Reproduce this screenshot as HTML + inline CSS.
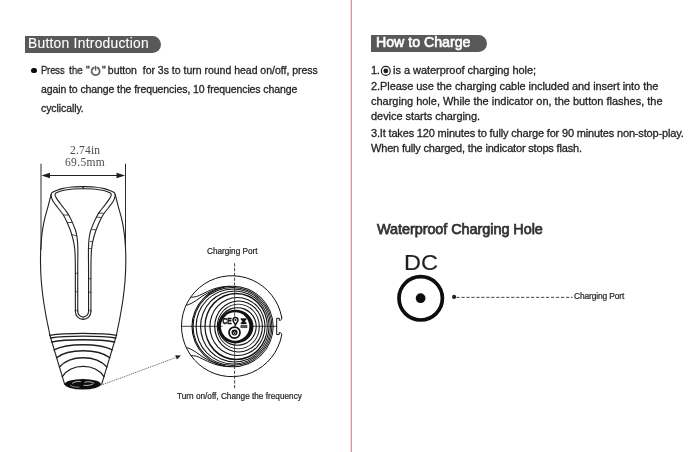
<!DOCTYPE html>
<html lang="en">
<head>
<meta charset="utf-8">
<title>Button Introduction / How to Charge</title>
<style>
html,body{margin:0;padding:0;background:#fff;}
body{width:700px;height:452px;position:relative;overflow:hidden;font-family:"Liberation Sans",sans-serif;color:#231f20;}
.divider{position:absolute;left:350px;top:0;width:2px;height:452px;background:linear-gradient(to right,#fbd0d2 0,#fbd0d2 1px,#f58c91 1px,#f58c91 2px);}
.hdr{position:absolute;background:#58595b;border-radius:0 8.5px 8.5px 0;}
.t{position:absolute;white-space:nowrap;line-height:20px;height:20px;color:#231f20;will-change:transform;-webkit-text-stroke:0.3px currentColor;}
svg{position:absolute;left:0;top:0;overflow:visible;}
.bullet{position:absolute;left:31.1px;top:67.5px;width:5.8px;height:5.8px;border-radius:50%;background:#0d0d0d;}
</style>
</head>
<body>
<div class="divider"></div>
<div class="hdr" style="left:25.2px;top:35.7px;width:136px;height:16.9px;"></div>
<div class="hdr" style="left:370.5px;top:34.8px;width:116.4px;height:16.8px;"></div>
<div class="bullet"></div>
<div class="t" id="l1a" style="left:40.70px;top:60.00px;font-size:10.5px;letter-spacing:-0.172px;transform:scaleX(0.9);transform-origin:0 50%;">Press</div>
<div class="t" id="l1t" style="left:69.18px;top:60.00px;font-size:10.5px;letter-spacing:0.008px;transform:scaleX(0.94);transform-origin:0 50%;">the</div>
<div class="t" id="l1q" style="left:85.69px;top:60.00px;font-size:10.5px;letter-spacing:0.225px;">&quot;</div>
<div class="t" id="l1b" style="left:102.09px;top:60.00px;font-size:10.5px;letter-spacing:-0.011px;">&quot;&thinsp;button&nbsp; for 3s to turn round head on/off, press</div>
<div class="t" id="l2" style="left:40.70px;top:79.01px;font-size:10.5px;letter-spacing:-0.099px;">again to change the frequencies, 10 frequencies change</div>
<div class="t" id="l3" style="left:40.70px;top:98.01px;font-size:10.5px;letter-spacing:-0.083px;">cyclically.</div>
<div class="t" id="r1a" style="left:370.98px;top:60.01px;font-size:11px;letter-spacing:-0.286px;">1.</div>
<div class="t" id="r1b" style="left:393.32px;top:60.01px;font-size:11px;letter-spacing:-0.040px;">is a waterproof charging hole;</div>
<div class="t" id="r2" style="left:370.60px;top:76.01px;font-size:11px;letter-spacing:-0.064px;">2.Please use the charging cable included and insert into the</div>
<div class="t" id="r3" style="left:370.60px;top:91.00px;font-size:11px;letter-spacing:-0.012px;">charging hole, While the indicator on, the button flashes, the</div>
<div class="t" id="r4" style="left:370.60px;top:106.00px;font-size:11px;letter-spacing:-0.045px;">device starts charging.</div>
<div class="t" id="r5" style="left:370.60px;top:123.00px;font-size:11px;letter-spacing:-0.166px;">3.It takes 120 minutes to fully charge for 90 minutes non-stop-play.</div>
<div class="t" id="r6" style="left:370.60px;top:138.00px;font-size:11px;letter-spacing:-0.176px;">When fully charged, the indicator stops flash.</div>
<div class="t" id="wch" style="left:376.80px;top:219.00px;font-size:14.4px;letter-spacing:-0.035px;color:#333;-webkit-text-stroke:0.75px currentColor;">Waterproof Charging Hole</div>
<div class="t" id="dc" style="left:404.00px;top:253.01px;font-size:22.6px;letter-spacing:0.061px;-webkit-text-stroke:0.15px currentColor;transform:scaleX(1.04);transform-origin:0 50%;">DC</div>
<div class="t" id="cp2" style="left:574.16px;top:286.01px;font-size:8.4px;letter-spacing:-0.121px;color:#262626;-webkit-text-stroke:0.22px currentColor;">Charging Port</div>
<div class="t" id="cp1" style="left:206.64px;top:242.01px;font-size:8.2px;letter-spacing:-0.003px;color:#262626;-webkit-text-stroke:0.22px currentColor;">Charging Port</div>
<div class="t" id="turn" style="left:176.84px;top:387.00px;font-size:8.2px;letter-spacing:0.018px;color:#262626;-webkit-text-stroke:0.22px currentColor;">Turn on/off, Change the frequency</div>
<div class="t" id="d1" style="left:69.58px;top:140.00px;font-size:11.5px;letter-spacing:0.195px;font-family:'Liberation Serif',serif;color:#4a4a4a;-webkit-text-stroke:0;">2.74in</div>
<div class="t" id="d2" style="left:64.85px;top:152.00px;font-size:11.5px;letter-spacing:0.348px;font-family:'Liberation Serif',serif;color:#4a4a4a;-webkit-text-stroke:0;">69.5mm</div>
<div class="t" id="h1" style="left:28.36px;top:34.01px;font-size:13.8px;letter-spacing:0.270px;color:#fff;-webkit-text-stroke:0.1px currentColor;">Button Introduction</div>
<div class="t" id="h2" style="left:376.47px;top:32.01px;font-size:14.2px;letter-spacing:-0.016px;color:#fff;-webkit-text-stroke:0.6px currentColor;">How to Charge</div>
<svg width="700" height="452" viewBox="0 0 700 452">
<g stroke="#231f20" stroke-width="0.95" fill="none">
<line x1="41" y1="163.7" x2="41" y2="250"/>
<line x1="125.5" y1="163.7" x2="125.5" y2="250"/>
<line x1="47" y1="175.5" x2="119" y2="175.5" stroke-width="1.1"/>
</g>
<path d="M41.4 175.5 L50 172.7 L50 178.3 Z" fill="#231f20" stroke="none"/>
<path d="M125.1 175.5 L116.5 172.7 L116.5 178.3 Z" fill="#231f20" stroke="none"/>
<g stroke="#231f20" stroke-width="1.1" fill="none" stroke-linecap="round" stroke-linejoin="round">
<path d="M83.15 186.60 C81.29 186.67 75.53 186.67 72.00 187.00 C68.47 187.33 64.58 188.03 62.00 188.60 C59.42 189.17 58.07 189.78 56.50 190.40 C54.93 191.02 53.48 191.65 52.60 192.30 C51.72 192.95 51.97 191.92 51.20 194.30 C50.43 196.68 49.13 202.35 48.00 206.60 C46.87 210.85 45.38 215.40 44.40 219.80 C43.42 224.20 42.68 228.63 42.10 233.00 C41.52 237.37 41.17 241.17 40.90 246.00 C40.63 250.83 40.45 256.33 40.50 262.00 C40.55 267.67 40.72 273.67 41.20 280.00 C41.68 286.33 42.47 293.33 43.40 300.00 C44.33 306.67 45.92 315.17 46.80 320.00 C47.68 324.83 48.20 326.50 48.70 329.00 C49.20 331.50 49.62 334.00 49.80 335.00 L64.6 384.2"/>
<path d="M83.15 188.70 C81.46 188.75 76.19 188.73 73.00 189.00 C69.81 189.27 66.33 189.85 64.00 190.30 C61.67 190.75 60.33 191.25 59.00 191.70 C57.67 192.15 56.67 192.48 56.00 193.00 C55.33 193.52 54.90 193.90 55.00 194.80 C55.10 195.70 55.57 196.73 56.60 198.40 C57.63 200.07 59.55 202.60 61.20 204.80 C62.85 207.00 65.13 209.70 66.50 211.60 C67.87 213.50 68.35 214.23 69.40 216.20 C70.45 218.17 71.75 220.93 72.80 223.40 C73.85 225.87 74.97 228.48 75.70 231.00 C76.43 233.52 76.85 235.83 77.20 238.50 C77.55 241.17 77.69 244.08 77.80 247.00 C77.91 249.92 77.86 252.17 77.85 256.00 C77.84 259.83 77.77 260.73 77.75 270.00 C77.73 279.27 77.75 304.67 77.75 311.60"/>
<path d="M51.00 194.60 C51.12 195.20 51.30 197.00 51.70 198.20 C52.10 199.40 52.40 200.25 53.40 201.80 C54.40 203.35 56.10 205.38 57.70 207.50 C59.30 209.62 61.52 212.22 63.00 214.50 C64.48 216.78 65.33 218.45 66.60 221.20 C67.87 223.95 69.47 227.72 70.60 231.00 C71.73 234.28 72.70 237.80 73.40 240.90 C74.10 244.00 74.50 246.75 74.80 249.60 C75.10 252.45 75.11 254.60 75.20 258.00 C75.29 261.40 75.32 261.07 75.35 270.00 C75.38 278.93 75.35 304.67 75.35 311.60"/>
<line x1="63.4" y1="215.0" x2="68.4" y2="215.0" stroke-width="0.8"/>
<line x1="67.4" y1="222.6" x2="72.4" y2="222.4" stroke-width="0.8"/>
<line x1="72.2" y1="234.6" x2="76.6" y2="236.0" stroke-width="0.8"/>
<line x1="75.35" y1="273.3" x2="77.75" y2="273.3" stroke-width="0.7"/>
<line x1="75.35" y1="291.7" x2="77.75" y2="291.7" stroke-width="0.7"/>
<line x1="75.35" y1="310.2" x2="77.75" y2="310.2" stroke-width="0.7"/>
<path d="M83.15 186.60 C85.01 186.67 90.78 186.67 94.30 187.00 C97.82 187.33 101.72 188.03 104.30 188.60 C106.88 189.17 108.23 189.78 109.80 190.40 C111.37 191.02 112.82 191.65 113.70 192.30 C114.58 192.95 114.33 191.92 115.10 194.30 C115.87 196.68 117.17 202.35 118.30 206.60 C119.43 210.85 120.92 215.40 121.90 219.80 C122.88 224.20 123.62 228.63 124.20 233.00 C124.78 237.37 125.13 241.17 125.40 246.00 C125.67 250.83 125.85 256.33 125.80 262.00 C125.75 267.67 125.58 273.67 125.10 280.00 C124.62 286.33 123.83 293.33 122.90 300.00 C121.97 306.67 120.38 315.17 119.50 320.00 C118.62 324.83 118.10 326.50 117.60 329.00 C117.10 331.50 116.68 334.00 116.50 335.00 L101.7 384.2"/>
<path d="M83.15 188.70 C84.84 188.75 90.11 188.73 93.30 189.00 C96.49 189.27 99.97 189.85 102.30 190.30 C104.63 190.75 105.97 191.25 107.30 191.70 C108.63 192.15 109.63 192.48 110.30 193.00 C110.97 193.52 111.40 193.90 111.30 194.80 C111.20 195.70 110.73 196.73 109.70 198.40 C108.67 200.07 106.75 202.60 105.10 204.80 C103.45 207.00 101.17 209.70 99.80 211.60 C98.43 213.50 97.95 214.23 96.90 216.20 C95.85 218.17 94.55 220.93 93.50 223.40 C92.45 225.87 91.33 228.48 90.60 231.00 C89.87 233.52 89.45 235.83 89.10 238.50 C88.75 241.17 88.61 244.08 88.50 247.00 C88.39 249.92 88.44 252.17 88.45 256.00 C88.46 259.83 88.53 260.73 88.55 270.00 C88.57 279.27 88.55 304.67 88.55 311.60"/>
<path d="M115.30 194.60 C115.18 195.20 115.00 197.00 114.60 198.20 C114.20 199.40 113.90 200.25 112.90 201.80 C111.90 203.35 110.20 205.38 108.60 207.50 C107.00 209.62 104.78 212.22 103.30 214.50 C101.82 216.78 100.97 218.45 99.70 221.20 C98.43 223.95 96.83 227.72 95.70 231.00 C94.57 234.28 93.60 237.80 92.90 240.90 C92.20 244.00 91.80 246.75 91.50 249.60 C91.20 252.45 91.19 254.60 91.10 258.00 C91.01 261.40 90.97 261.07 90.95 270.00 C90.93 278.93 90.95 304.67 90.95 311.60"/>
<line x1="103.3" y1="213.2" x2="98.3" y2="213.2" stroke-width="0.8"/>
<line x1="101.1" y1="217.6" x2="96.7" y2="217.0" stroke-width="0.8"/>
<line x1="95.5" y1="229.6" x2="92.5" y2="229.6" stroke-width="0.8"/>
<line x1="92.5" y1="241.6" x2="90.3" y2="241.6" stroke-width="0.8"/>
<line x1="90.95" y1="248.5" x2="88.55" y2="248.5" stroke-width="0.7"/>
<line x1="90.95" y1="278.8" x2="88.55" y2="278.8" stroke-width="0.7"/>
<line x1="90.95" y1="292.2" x2="88.55" y2="292.2" stroke-width="0.7"/>
<line x1="90.95" y1="310.2" x2="88.55" y2="310.2" stroke-width="0.7"/>
<path d="M75.35 311.6 A7.80 7.80 0 0 0 90.95 311.6"/>
<path d="M77.75 311.6 A5.40 5.40 0 0 0 88.55 311.6"/>
<line x1="83.15" y1="317" x2="83.15" y2="319.3" stroke-width="0.7"/>
<circle cx="83.15" cy="187.4" r="0.8" fill="#231f20" stroke="none"/>
</g>
<g stroke="#231f20" fill="none" stroke-linecap="round">
<path d="M49.7 335.3 C64.75 332.77 101.55 332.77 116.6 335.3" stroke-width="1.3"/>
<path d="M50.5 338.0 C65.19 335.60 101.11 335.60 115.8 338.0" stroke-width="1.3"/>
<path d="M51.7 342.0 C65.85 338.93 100.45 338.93 114.6 342.0" stroke-width="1.4"/>
<path d="M54.1 349.9 C67.17 343.10 99.13 343.10 112.2 349.9" stroke-width="1.4"/>
<path d="M56.5 357.7 C68.49 348.37 97.81 348.37 109.8 357.7" stroke-width="1.4"/>
<path d="M59.4 367.0 C70.09 354.60 96.21 354.60 106.9 367.0" stroke-width="1.4"/>
<path d="M62.3 376.6 C71.68 363.00 94.62 363.00 104.0 376.6" stroke-width="1.4"/>
</g>
<ellipse cx="82.8" cy="384.2" rx="18.1" ry="5.2" fill="#0d0d0d" stroke="none"/>
<g stroke="#fff" fill="none" stroke-width="0.7" stroke-linecap="round">
<path d="M72.5 383.2 C74.5 381.6 78 381.1 80.5 381.6"/>
<path d="M85 382.2 C88 381.3 92 381.6 94 383.2"/>
<path d="M84 385.3 C87 385.8 90 385.3 92.5 384.2"/>
<path d="M70.5 385.4 C72.5 386.9 76 387.4 79 387.2" stroke-width="0.5"/>
</g>
<line x1="101.2" y1="385.2" x2="176.5" y2="357.3" stroke="#231f20" stroke-width="0.7" stroke-dasharray="1.1 0.9"/>
<path d="M181 355.6 L175.2 355.3 L176.9 359.6 Z" fill="#231f20" stroke="none"/>
<g stroke="#111" fill="none" stroke-width="1.0" stroke-linejoin="round" stroke-linecap="round">
<path d="M281.65 335.4 A50.5 50.5 0 1 1 281.73 317.4"/>
<path d="M281.73 317.4 C282.23 319.2 281.13 320.4 279.33 320.4 L279.33 318.29999999999995 L276.7 318.29999999999995 L276.7 334.5 L279.25 334.5 L279.25 332.4 C281.05 332.4 282.15 333.59999999999997 281.65 335.4"/>
<line x1="181.5" y1="326.3" x2="276.7" y2="326.3" stroke-width="0.8"/>
<path d="M191.00 297.30 C191.93 297.17 194.75 297.03 196.60 296.50 C198.45 295.97 200.25 294.95 202.10 294.10 C203.95 293.25 205.85 292.23 207.70 291.40 C209.55 290.57 211.37 289.75 213.20 289.10 C215.03 288.45 216.87 287.92 218.70 287.50 C220.53 287.08 222.32 286.82 224.20 286.60 C226.08 286.38 229.03 286.27 230.00 286.20"/>
<path d="M187.10 305.10 C187.77 304.83 189.52 304.32 191.10 303.50 C192.68 302.68 194.77 301.40 196.60 300.20 C198.43 299.00 200.25 297.50 202.10 296.30 C203.95 295.10 205.85 293.98 207.70 293.00 C209.55 292.02 211.37 291.17 213.20 290.40 C215.03 289.63 216.87 288.95 218.70 288.40 C220.53 287.85 223.28 287.32 224.20 287.10"/>
<path d="M191.00 355.50 C191.93 355.63 194.75 355.77 196.60 356.30 C198.45 356.83 200.25 357.85 202.10 358.70 C203.95 359.55 205.85 360.57 207.70 361.40 C209.55 362.23 211.37 363.05 213.20 363.70 C215.03 364.35 216.87 364.88 218.70 365.30 C220.53 365.72 222.32 365.98 224.20 366.20 C226.08 366.42 229.03 366.53 230.00 366.60"/>
<path d="M187.10 347.70 C187.77 347.97 189.52 348.48 191.10 349.30 C192.68 350.12 194.77 351.40 196.60 352.60 C198.43 353.80 200.25 355.30 202.10 356.50 C203.95 357.70 205.85 358.82 207.70 359.80 C209.55 360.78 211.37 361.63 213.20 362.40 C215.03 363.17 216.87 363.85 218.70 364.40 C220.53 364.95 223.28 365.48 224.20 365.70"/>
</g>
<path d="M191.43 326.50 A41.12 40.78 0 1 0 273.68 326.50 A41.12 40.78 0 1 0 191.43 326.50 Z M192.57 326.50 A40.07 39.82 0 1 0 272.72 326.50 A40.07 39.82 0 1 0 192.57 326.50 Z" fill="#111" fill-rule="evenodd" stroke="none"/>
<path d="M192.43 326.50 A39.97 39.38 0 1 0 272.38 326.50 A39.97 39.38 0 1 0 192.43 326.50 Z M193.57 326.50 A38.92 38.42 0 1 0 271.42 326.50 A38.92 38.42 0 1 0 193.57 326.50 Z" fill="#111" fill-rule="evenodd" stroke="none"/>
<path d="M195.52 326.50 A37.73 37.98 0 1 0 270.98 326.50 A37.73 37.98 0 1 0 195.52 326.50 Z M196.67 326.50 A36.67 37.02 0 1 0 270.02 326.50 A36.67 37.02 0 1 0 196.67 326.50 Z" fill="#111" fill-rule="evenodd" stroke="none"/>
<path d="M200.02 326.50 A34.73 36.05 0 1 0 269.48 326.50 A34.73 36.05 0 1 0 200.02 326.50 Z M201.17 326.50 A33.67 34.95 0 1 0 268.52 326.50 A33.67 34.95 0 1 0 201.17 326.50 Z" fill="#111" fill-rule="evenodd" stroke="none"/>
<path d="M204.43 326.50 A31.68 33.25 0 1 0 267.78 326.50 A31.68 33.25 0 1 0 204.43 326.50 Z M205.57 326.50 A30.62 32.15 0 1 0 266.82 326.50 A30.62 32.15 0 1 0 205.57 326.50 Z" fill="#111" fill-rule="evenodd" stroke="none"/>
<path d="M209.32 326.50 A28.11 29.55 0 1 0 265.55 326.50 A28.11 29.55 0 1 0 209.32 326.50 Z M210.47 326.50 A26.99 28.45 0 1 0 264.45 326.50 A26.99 28.45 0 1 0 210.47 326.50 Z" fill="#111" fill-rule="evenodd" stroke="none"/>
<path d="M214.12 326.50 A24.41 26.05 0 1 0 262.95 326.50 A24.41 26.05 0 1 0 214.12 326.50 Z M215.27 326.50 A23.29 24.95 0 1 0 261.85 326.50 A23.29 24.95 0 1 0 215.27 326.50 Z" fill="#111" fill-rule="evenodd" stroke="none"/>
<path d="M216.73 326.50 A21.56 22.65 0 1 0 259.85 326.50 A21.56 22.65 0 1 0 216.73 326.50 Z M217.88 326.50 A20.44 21.55 0 1 0 258.75 326.50 A20.44 21.55 0 1 0 217.88 326.50 Z" fill="#111" fill-rule="evenodd" stroke="none"/>
<path d="M218.02 326.50 A19.36 19.35 0 1 0 256.75 326.50 A19.36 19.35 0 1 0 218.02 326.50 Z M219.17 326.50 A18.24 18.25 0 1 0 255.65 326.50 A18.24 18.25 0 1 0 219.17 326.50 Z" fill="#111" fill-rule="evenodd" stroke="none"/>
<line x1="234.6" y1="263.2" x2="234.6" y2="286" stroke="#231f20" stroke-width="0.85" stroke-dasharray="3.3 1.5"/>
<line x1="234.6" y1="286" x2="234.6" y2="310" stroke="#231f20" stroke-width="0.7"/>
<line x1="234.6" y1="343" x2="234.6" y2="367" stroke="#231f20" stroke-width="0.7"/>
<line x1="234.6" y1="367" x2="234.6" y2="388.4" stroke="#231f20" stroke-width="0.85" stroke-dasharray="3.3 1.5" stroke-dashoffset="1.2"/>
<path d="M217.80 326.55 A17.85 16.85 0 1 0 253.50 326.55 A17.85 16.85 0 1 0 217.80 326.55 Z" fill="#111" stroke="none"/>
<circle cx="235.1" cy="326.5" r="14.2" fill="#fff" stroke="none"/>
<line x1="234.6" y1="312.3" x2="234.6" y2="316.6" stroke="#111" stroke-width="0.7"/>
<line x1="220.9" y1="326.3" x2="222.6" y2="326.3" stroke="#111" stroke-width="0.7"/>
<text x="222.5" y="324.4" font-family="Liberation Sans, sans-serif" font-weight="bold" font-size="9.4" fill="#111" stroke="#111" stroke-width="0.55" stroke-linejoin="round" textLength="9.3" lengthAdjust="spacingAndGlyphs">CE</text>
<circle cx="234.5" cy="332.6" r="5.5" fill="#fff" stroke="#111" stroke-width="1.7"/>
<circle cx="234.5" cy="332.6" r="3.0" fill="#111" stroke="none"/>
<path d="M233.6 332.2 a1.25 1.25 0 1 0 1.8 0" fill="none" stroke="#fff" stroke-width="0.55"/>
<line x1="234.5" y1="331.2" x2="234.5" y2="332.7" stroke="#fff" stroke-width="0.55"/>
<path d="M235.5 317.4 a2.5 2.5 0 0 1 2.5 2.5 c0 1.8 -1.6 3.0 -2.5 5.0 c-0.9 -2.0 -2.5 -3.2 -2.5 -5.0 a2.5 2.5 0 0 1 2.5 -2.5 Z" fill="#fff" stroke="#111" stroke-width="1.5" stroke-linejoin="round"/>
<circle cx="235.5" cy="319.9" r="1.0" fill="#111"/>
<line x1="235.3" y1="324.6" x2="235.0" y2="326.6" stroke="#111" stroke-width="1.2"/>
<path d="M240.9 318.5 L246.3 318.5 L246.3 319.4 L244.7 321.2 L246.3 323.0 L246.3 323.9 L240.9 323.9 L240.9 323.0 L242.5 321.2 L240.9 319.4 Z" fill="#111" stroke="#111" stroke-width="0.4" stroke-linejoin="round"/>
<rect x="240.9" y="325.3" width="6.1" height="2.5" fill="#555" stroke="#222" stroke-width="0.5"/>
<circle cx="420.7" cy="298.3" r="21.7" fill="none" stroke="#0d0d0d" stroke-width="3.7"/>
<circle cx="420.6" cy="298.2" r="4.85" fill="#0d0d0d"/>
<circle cx="454.1" cy="296.9" r="2.05" fill="#231f20"/>
<line x1="456.4" y1="297.35" x2="572.6" y2="297.35" stroke="#3a3a3a" stroke-width="0.95" stroke-dasharray="3.2 1.78"/>
<path d="M94.5 67.3 A4.05 4.05 0 1 0 96.7 67.3" fill="none" stroke="#675d5b" stroke-width="1.75" stroke-linecap="butt"/>
<line x1="95.6" y1="65.8" x2="95.6" y2="70.7" stroke="#5d5452" stroke-width="1.25"/>
<circle cx="385.8" cy="70.9" r="4.45" fill="none" stroke="#231f20" stroke-width="1.2"/>
<circle cx="385.8" cy="70.9" r="2.4" fill="#231f20"/>
</svg>
</body>
</html>
